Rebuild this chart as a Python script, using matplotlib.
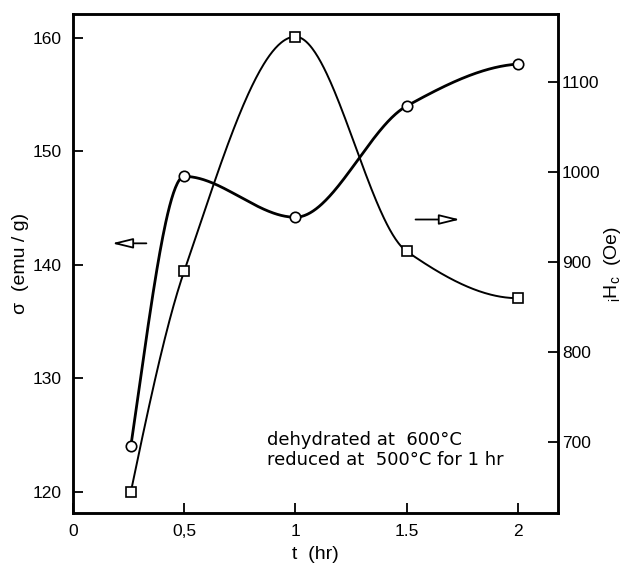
import matplotlib
matplotlib.use("Agg")
import matplotlib.pyplot as plt
import numpy as np

plt.rcParams['font.family'] = ['Liberation Sans', 'DejaVu Sans']

# reduction time (hr)
t = [0.26, 0.5, 1.0, 1.5, 2.0]
# saturation magnetization sigma (emu/g), left axis, circles
sigma = [124.0, 147.8, 144.2, 154.0, 157.7]
# intrinsic coercivity iHc (Oe), right axis, squares
ihc = [645, 890, 1150, 912, 860]

xticks = [0, 0.5, 1, 1.5, 2]
xticklabels = ["0", "0,5", "1", "1.5", "2"]
sigma_ticks = [120, 130, 140, 150, 160]
ihc_ticks = [700, 800, 900, 1000, 1100]


def pchip(x, y, xs):
    # monotone cubic (Fritsch-Carlson) for the smooth hand-drawn look
    x = np.asarray(x, float)
    y = np.asarray(y, float)
    h = np.diff(x)
    dl = np.diff(y) / h
    n = len(x)
    d = np.zeros(n)
    for k in range(1, n - 1):
        if dl[k - 1] * dl[k] > 0:
            w1 = 2 * h[k] + h[k - 1]
            w2 = h[k] + 2 * h[k - 1]
            d[k] = (w1 + w2) / (w1 / dl[k - 1] + w2 / dl[k])

    def end(h0, h1, d0, d1):
        s = ((2 * h0 + h1) * d0 - h0 * d1) / (h0 + h1)
        if np.sign(s) != np.sign(d0):
            return 0.0
        if np.sign(d0) != np.sign(d1) and abs(s) > abs(3 * d0):
            return 3 * d0
        return s

    d[0] = end(h[0], h[1], dl[0], dl[1])
    d[-1] = end(h[-1], h[-2], dl[-1], dl[-2])
    i = np.clip(np.searchsorted(x, xs) - 1, 0, n - 2)
    s = (xs - x[i]) / h[i]
    h00 = 2 * s**3 - 3 * s**2 + 1
    h10 = s**3 - 2 * s**2 + s
    h01 = -2 * s**3 + 3 * s**2
    h11 = s**3 - s**2
    return h00 * y[i] + h10 * h[i] * d[i] + h01 * y[i + 1] + h11 * h[i] * d[i + 1]


fig = plt.figure(figsize=(6.29, 5.66), dpi=100)
ax = fig.add_axes([0.116, 0.094, 0.771, 0.881])
ax2 = ax.twinx()

ts = np.linspace(t[0], t[-1], 400)
ax.plot(ts, pchip(t, sigma, ts), color='black', lw=2.0, zorder=2)
ax.plot(t, sigma, 'o', ms=7.5, mfc='white', mec='black', mew=1.2, zorder=3)

ax2.plot(ts, pchip(t, ihc, ts), color='black', lw=1.4, zorder=2)
ax2.plot(t, ihc, 's', ms=6.5, mfc='white', mec='black', mew=1.2, zorder=3)

ax.set_xlim(0, 2.18)
ax.set_ylim(118.15, 162.1)
ax2.set_ylim(622, 1175)

ax.set_xticks(xticks)
ax.set_xticklabels(xticklabels)
ax.set_yticks(sigma_ticks)
ax2.set_yticks(ihc_ticks)

for a in (ax, ax2):
    for sp in a.spines.values():
        sp.set_linewidth(1.8)
    a.tick_params(direction='in', length=7, width=1.3, labelsize=12.5)
ax.tick_params(axis='y', pad=8)
ax.tick_params(axis='x', pad=8)
ax2.tick_params(axis='y', pad=3)

ax.set_xlabel("t  (hr)", fontsize=14, labelpad=5)
ax.set_ylabel("σ  (emu / g)", fontsize=14, labelpad=3)
ax2.set_ylabel(r"$_{\mathregular{i}}$H$_{\mathregular{c}}$  (Oe)", fontsize=14, labelpad=1)

# arrows pointing to the axis each curve belongs to
arrow = dict(arrowstyle='-|>,head_length=0.9,head_width=0.22', fc='white',
             ec='black', lw=1.3, mutation_scale=14, shrinkA=0, shrinkB=0)
ax.annotate("", xy=(0.175, 141.9), xytext=(0.33, 141.9), arrowprops=arrow)
ax.annotate("", xy=(1.74, 144.0), xytext=(1.54, 144.0), arrowprops=arrow)

ax.text(0.40, 0.126, "dehydrated at  600°C\nreduced at  500°C for 1 hr",
        transform=ax.transAxes, fontsize=13, family='DejaVu Sans',
        ha='left', va='center', linespacing=1.1)

fig.savefig("out.png", dpi=100)
